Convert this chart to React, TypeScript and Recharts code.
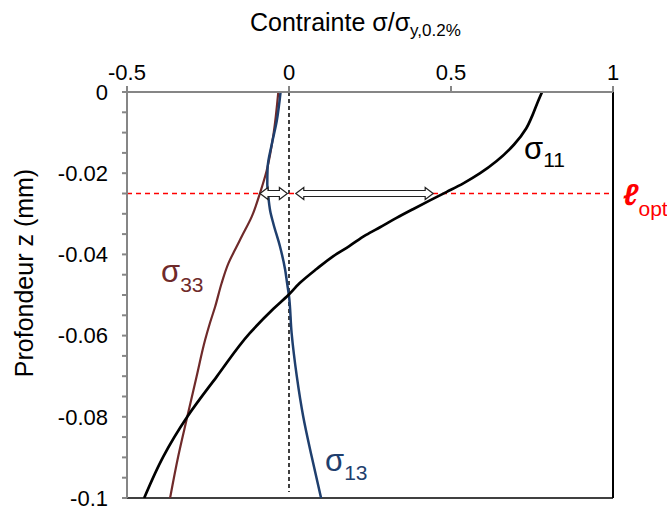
import React from "react";
import { LineChart, Line, XAxis, YAxis, ReferenceLine } from "recharts";

// depth (mm, negative downward) and normalised stress for each curve
const s11Depth = [0, -0.003, -0.006, -0.009, -0.013, -0.017, -0.02, -0.0225, -0.0246, -0.0267, -0.0288, -0.031, -0.0333, -0.0352, -0.038, -0.0404, -0.0436, -0.047, -0.05, -0.0534, -0.0594, -0.0701, -0.08, -0.0898, -0.1];
const s11Value = [0.781, 0.765, 0.75, 0.732, 0.694, 0.641, 0.59, 0.538, 0.487, 0.435, 0.384, 0.332, 0.281, 0.238, 0.185, 0.137, 0.085, 0.034, -0.002, -0.048, -0.121, -0.223, -0.314, -0.388, -0.447];

const s33Depth = [0, -0.0105, -0.0194, -0.0249, -0.0307, -0.0356, -0.0389, -0.0422, -0.0471, -0.0529, -0.0569, -0.0611, -0.07, -0.08, -0.0898, -0.1];
const s33Value = [-0.033, -0.048, -0.069, -0.0895, -0.115, -0.146, -0.167, -0.187, -0.208, -0.228, -0.244, -0.259, -0.285, -0.314, -0.342, -0.367];

const s13Depth = [0, -0.0072, -0.0128, -0.0186, -0.0227, -0.0256, -0.0293, -0.0325, -0.038, -0.0437, -0.047, -0.0503, -0.0593, -0.07, -0.08, -0.0898, -0.1];
const s13Value = [-0.026, -0.038, -0.053, -0.066, -0.067, -0.064, -0.058, -0.048, -0.028, -0.012, -0.006, 0, 0.008, 0.024, 0.044, 0.07, 0.099];

const xTicks = [-0.5, 0, 0.5, 1];
const yTicks = [0, -0.005, -0.01, -0.015, -0.02, -0.025, -0.03, -0.035, -0.04, -0.045, -0.05, -0.055, -0.06, -0.065, -0.07, -0.075, -0.08, -0.085, -0.09, -0.095, -0.1];
const yLabels = [0, -0.02, -0.04, -0.06, -0.08, -0.1];

const lOpt = -0.025;
const arrowSmall = [-0.0895, -0.005];
const arrowLarge = [0.021, 0.445];

const toPoints = (depth: number[], value: number[]) =>
  depth.map((z, i) => ({ x: value[i], z }));

const s11 = toPoints(s11Depth, s11Value);
const s33 = toPoints(s33Depth, s33Value);
const s13 = toPoints(s13Depth, s13Value);

const DoubleArrow = (props: any) => {
  const { x1, x2, y1 } = props;
  const h = 8;
  const y = y1;
  const d = `M${x1},${y} L${x1 + h},${y - 6} L${x1 + h},${y - 3} L${x2 - h},${y - 3} L${x2 - h},${y - 6} L${x2},${y} L${x2 - h},${y + 6} L${x2 - h},${y + 3} L${x1 + h},${y + 3} L${x1 + h},${y + 6} Z`;
  return <path d={d} fill="#fff" stroke="#222" strokeWidth={1.2} />;
};

const BROWN = "#6F2A2A";
const BLUE = "#1F3F6E";

export default function App() {
  return (
    <div
      style={{
        position: "absolute",
        left: 0,
        top: 0,
        width: 667,
        height: 509,
        background: "#fff",
        fontFamily: "'Liberation Sans', Arial, sans-serif",
      }}
    >
      <LineChart width={667} height={509} margin={{ top: 62, right: 54, bottom: 11, left: 67 }}>
        <XAxis
          type="number"
          dataKey="x"
          orientation="top"
          domain={[-0.5, 1]}
          ticks={xTicks}
          height={30}
          tickSize={6}
          tickMargin={6}
          stroke="#868686"
          strokeWidth={2}
          tick={{ fill: "#000", fontSize: 22 }}
          allowDataOverflow
        />
        <YAxis
          type="number"
          domain={[-0.1, 0]}
          ticks={yTicks}
          width={60}
          tickSize={5}
          tickMargin={14}
          stroke="#868686"
          strokeWidth={2}
          tick={{ fill: "#000", fontSize: 22 }}
          tickFormatter={(v: number) => (yLabels.includes(v) ? String(v) : "")}
          interval={0}
          allowDataOverflow
        />
        <ReferenceLine y={-0.1} stroke="#404040" strokeWidth={2} />
        <ReferenceLine x={1} stroke="#000" strokeWidth={2} />
        <ReferenceLine
          segment={[{ x: 0, y: 0 }, { x: 0, y: -0.0985 }]}
          stroke="#000"
          strokeDasharray="4 3"
          strokeWidth={1.5}
        />
        <ReferenceLine y={lOpt} stroke="#FF0000" strokeDasharray="5 4" strokeWidth={1.5} />
        <Line data={s33} dataKey="z" type="monotoneY" stroke={BROWN} strokeWidth={2.2} dot={false} isAnimationActive={false} />
        <Line data={s13} dataKey="z" type="monotoneY" stroke={BLUE} strokeWidth={2.5} dot={false} isAnimationActive={false} />
        <Line data={s11} dataKey="z" type="monotoneY" stroke="#000" strokeWidth={2.7} dot={false} isAnimationActive={false} />
        <ReferenceLine
          segment={[{ x: arrowSmall[0], y: lOpt }, { x: arrowSmall[1], y: lOpt }]}
          shape={DoubleArrow}
        />
        <ReferenceLine
          segment={[{ x: arrowLarge[0], y: lOpt }, { x: arrowLarge[1], y: lOpt }]}
          shape={DoubleArrow}
        />
      </LineChart>
      <svg
        width={667}
        height={509}
        style={{ position: "absolute", left: 0, top: 0, pointerEvents: "none" }}
      >
        <text x={250} y={31} fontSize={25} fill="#000">
          Contrainte σ/σ
          <tspan fontSize={17} dy={5}>y,0.2%</tspan>
        </text>
        <text x={33} y={273} fontSize={25} fill="#000" textAnchor="middle" transform="rotate(-90, 33, 273)">
          Profondeur z (mm)
        </text>
        <text x={524} y={159} fontSize={31} fill="#000">
          σ<tspan fontSize={21} dy={8}>11</tspan>
        </text>
        <text x={161} y={282} fontSize={31} fill={BROWN}>
          σ<tspan fontSize={21} dy={10}>33</tspan>
        </text>
        <text x={325} y={471} fontSize={31} fill={BLUE}>
          σ<tspan fontSize={21} dy={9}>13</tspan>
        </text>
        <text x={623} y={205} fontSize={30} fill="#FF0000" fontStyle="italic" fontWeight="bold">
          ℓ<tspan fontSize={21} fontStyle="normal" fontWeight="normal" dy={11}>opt</tspan>
        </text>
      </svg>
    </div>
  );
}
